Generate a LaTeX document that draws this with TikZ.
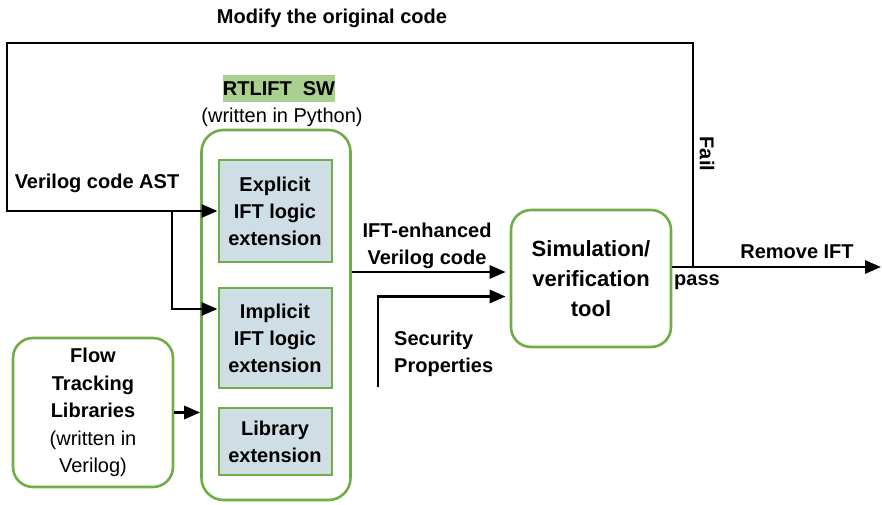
\documentclass[tikz,border=0pt]{standalone}
\usepackage{fontspec}
\setmainfont{Liberation Sans}
\usetikzlibrary{arrows.meta,calc}
\definecolor{boxgreen}{RGB}{112,173,71}
\definecolor{tagfill}{RGB}{169,208,142}
\definecolor{modfill}{RGB}{207,221,228}
\begin{document}
\begin{tikzpicture}[x=1pt,y=-1pt,
  lbl/.style={font=\fontsize{20}{27}\selectfont\bfseries, align=center, inner sep=0pt},
  plain/.style={font=\fontsize{20}{27}\selectfont, align=center, inner sep=0pt},
  rbox/.style={draw=boxgreen, line width=2.6pt, rounded corners=20pt, fill=white,
    align=center, inner sep=0pt, font=\fontsize{20}{27.5}\selectfont\bfseries},
  modbox/.style={draw=boxgreen, line width=2pt, fill=modfill, align=center, inner sep=0pt,
    minimum width=113pt, font=\fontsize{20}{27}\selectfont\bfseries},
  arr/.style={line width=2.9pt, -{Triangle[length=16pt,width=13pt]}}]
\useasboundingbox (0,0) rectangle (882,505);

% software container and its three extension modules
\node[rbox, minimum width=149pt, minimum height=370pt, rounded corners=22pt] (rt) at (276,315) {};
\node[modbox, minimum height=102pt] (exp) at (275,211) {Explicit\\IFT logic\\extension};
\node[modbox, minimum height=100pt] (imp) at (275,338) {Implicit\\IFT logic\\extension};
\node[modbox, minimum height=67pt] (lib) at (275,441.5) {Library\\extension};

% title of the container
\node[lbl, fill=tagfill, minimum width=112pt, minimum height=27pt] (tag) at (279,88.5) {RTLIFT\ \ SW};
\node[plain] (py) at (282,117) {(written in Python)};

% library source box
\node[rbox, minimum width=160pt, minimum height=149pt] (flow) at (93,412.5)
  {Flow\\Tracking\\Libraries\\\mdseries(written in\\\mdseries Verilog)};

% simulation / verification tool
\node[rbox, minimum width=160pt, minimum height=137pt,
  font=\fontsize{22}{30}\selectfont\bfseries] (sim) at (591,278.5)
  {Simulation/\\verification\\tool};

% connector end points
\coordinate (tap) at (693,267);
\coordinate (tl) at (7,43);
\coordinate (out) at (881,267);
\coordinate (br) at (172,211);
\coordinate (sp) at (378,387);

% result path and feedback loop
\draw[arr] (sim.east |- out) -- (out);
\draw[arr] (tap) |- (tl) |- (exp.west);
\draw[arr] (br) |- ([yshift=-22pt]imp.north west);
\draw[arr] (flow.east) -- (flow.east -| rt.west);
\draw[arr] ([yshift=6.5pt]sim.west -| rt.east) -- ([yshift=6.5pt,xshift=-4pt]sim.west);
\draw[arr] (sp) |- ([yshift=-18pt,xshift=-4pt]sim.west);

% labels
\node[lbl] (lmod) at (332,18) {Modify the original code};
\node[lbl] (last) at (97,183) {Verilog code AST};
\node[lbl] (lift) at (427,246) {IFT-enhanced\\Verilog code};
\node[lbl, align=left, anchor=west] (lsec) at (394,354) {Security\\Properties};
\node[lbl] (lrem) at (797,252) {Remove IFT};
\node[lbl] (lpass) at (697,282) {pass};
\node[lbl, rotate=-90] (lfail) at (707,154) {Fail};
\end{tikzpicture}
\end{document}
